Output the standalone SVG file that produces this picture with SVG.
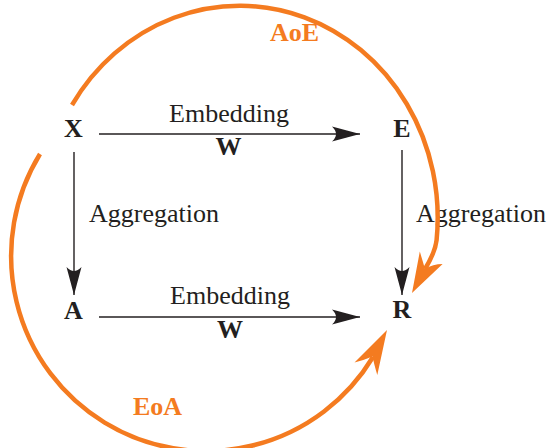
<svg xmlns="http://www.w3.org/2000/svg" width="558" height="448" viewBox="0 0 558 448">
<style>
.lbl{font-family:"Liberation Serif","Times New Roman",serif;font-size:26px;fill:#231F20}
.node{font-family:"Liberation Serif","Times New Roman",serif;font-size:26px;font-weight:bold;fill:#231F20;text-anchor:middle}
.olbl{font-family:"Liberation Serif","Times New Roman",serif;font-size:26px;font-weight:bold;fill:#F47B20}
.edge{stroke:#231F20;stroke-width:1.4;fill:none}
.arc{stroke:#F47B20;stroke-width:4.5;fill:none}
.oh{fill:#F47B20}
</style>
<defs>
<marker id="ah" viewBox="-30 -10 32 20" refX="0" refY="0" markerWidth="32" markerHeight="20" orient="auto" markerUnits="userSpaceOnUse">
<path d="M0,0 L-28,-7.5 Q-20,0 -28,7.5 Z" fill="#231F20"/>
</marker>
</defs>
<g id="connectors">
<line class="edge" x1="99" y1="134" x2="360" y2="134" marker-end="url(#ah)"/>
<line class="edge" x1="99" y1="317" x2="360" y2="317" marker-end="url(#ah)"/>
<line class="edge" x1="74" y1="152" x2="74" y2="295" marker-end="url(#ah)"/>
<line class="edge" x1="402" y1="150" x2="402" y2="295" marker-end="url(#ah)"/>
<text class="lbl" x="229" y="122" text-anchor="middle">Embedding</text>
<text class="node" x="228.5" y="155">W</text>
<text class="lbl" x="230" y="304" text-anchor="middle">Embedding</text>
<text class="node" x="230" y="338">W</text>
<text class="lbl" x="89" y="222">Aggregation</text>
<text class="lbl" x="416" y="222">Aggregation</text>
</g>
<g id="AoE">
<path class="arc" d="M72,105 A198 212 0 0 1 436.6,240 Q435.3,252 425,269"/>
<path class="oh" d="M412,293 L419.8,251.6 Q423,262 425,269 Q433,264 442.6,264 Z"/>
<text class="olbl" x="270" y="41">AoE</text>
</g>
<g id="EoA">
<path class="arc" d="M40,154 A195 195 0 1 0 373,357"/>
<path class="oh" d="M387,330 L377.3,374.9 Q374,364 372.6,356.4 Q364,360 354.5,362.5 Z"/>
<text class="olbl" x="133" y="415">EoA</text>
</g>
<g id="X"><text class="node" x="73.5" y="137">X</text></g>
<g id="E"><text class="node" x="402" y="137">E</text></g>
<g id="A"><text class="node" x="73.5" y="319">A</text></g>
<g id="R"><text class="node" x="402" y="318">R</text></g>
</svg>
